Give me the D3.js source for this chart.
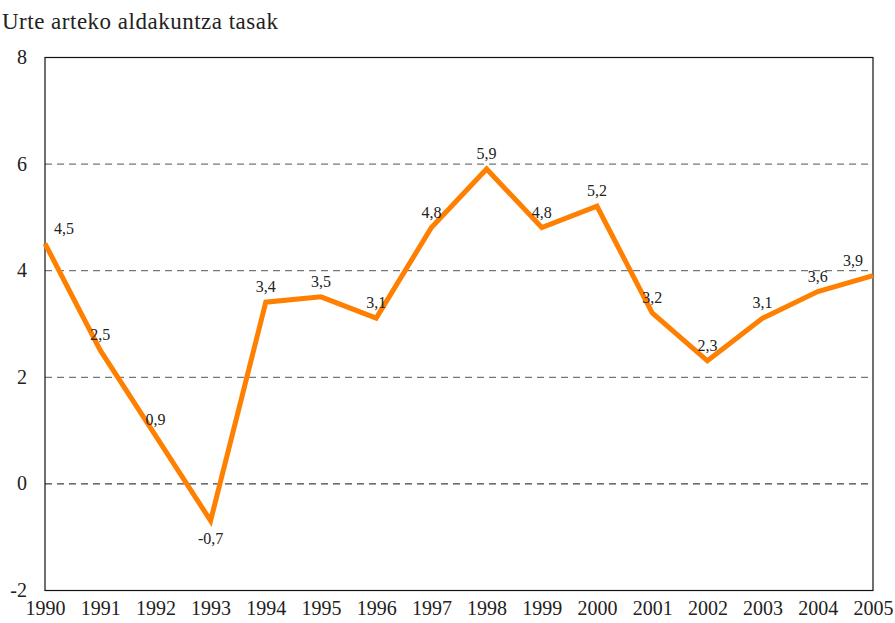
<!DOCTYPE html>
<html>
<head>
<meta charset="utf-8">
<script src="https://cdn.jsdelivr.net/npm/d3@7"></script>
<style>
  body { margin: 0; background: #fff; }
  #chart svg, #chart svg text { font-family: 'Liberation Serif', 'Times New Roman', 'DejaVu Serif', serif !important; }
</style>
</head>
<body>
<div id="chart"></div>
<script>
const years = ['1990', '1991', '1992', '1993', '1994', '1995', '1996', '1997',
    '1998', '1999', '2000', '2001', '2002', '2003', '2004', '2005'];
const rates = [4.5, 2.5, 0.9, -0.7, 3.4, 3.5, 3.1, 4.8, 5.9, 4.8, 5.2, 3.2, 2.3, 3.1, 3.6, 3.9];
const yTicks = [-2, 0, 2, 4, 6, 8];
const title = 'Urte arteko aldakuntza tasak';

const outerWidth = 895;
const outerHeight = 623;
const margin = { top: 57, left: 45, bottom: 33, right: 22 };
const innerWidth = outerWidth - margin.left - margin.right;
const innerHeight = outerHeight - margin.top - margin.bottom;

const fmt = v => String(v).replace('.', ',');

const xScale = d3.scalePoint()
    .domain(years)
    .range([0, innerWidth]);

const yScale = d3.scaleLinear()
    .domain([-2, 8])
    .range([innerHeight, 0]);

const root = d3.select('#chart')
    .append('svg')
        .attr('width', outerWidth)
        .attr('height', outerHeight);

root.append('text')
    .attr('x', 2)
    .attr('y', 29)
    .attr('font-size', 23)
    .attr('letter-spacing', 0.5)
    .attr('fill', '#222')
    .text(title);

const svg = root.append('g')
    .attr('transform', `translate(${margin.left},${margin.top})`);

// dashed grid
svg.selectAll('.grid')
    .data(yTicks.filter(t => t > -2 && t < 8))
    .join('line')
        .classed('grid', true)
        .attr('x1', 0)
        .attr('x2', innerWidth)
        .attr('y1', d => yScale(d) + 0.5)
        .attr('y2', d => yScale(d) + 0.5)
        .attr('stroke', d => d === 0 ? '#111' : '#555')
        .attr('stroke-width', 1)
        .attr('stroke-dasharray', '7,5');

// frame
svg.append('rect')
    .attr('x', 0)
    .attr('y', 0.5)
    .attr('width', innerWidth)
    .attr('height', innerHeight)
    .attr('fill', 'none')
    .attr('stroke', '#111')
    .attr('stroke-width', 1.2);

const yAxis = d3.axisLeft(yScale)
    .tickValues(yTicks)
    .tickFormat(d => String(d))
    .tickSize(0)
    .tickPadding(18);

svg.append('g')
    .call(yAxis)
    .attr('font-family', null)
    .attr('font-size', 20)
    .call(g => g.select('.domain').remove())
    .selectAll('text')
        .attr('fill', '#222');

const xAxis = d3.axisBottom(xScale)
    .tickSize(0)
    .tickPadding(11);

svg.append('g')
    .attr('transform', `translate(0,${innerHeight})`)
    .call(xAxis)
    .attr('font-family', null)
    .attr('font-size', 20)
    .call(g => g.select('.domain').remove())
    .selectAll('text')
        .attr('fill', '#222');

const lineGenerator = d3.line()
    .x((d, i) => xScale(years[i]))
    .y(d => yScale(d));

svg.append('path')
    .attr('d', lineGenerator(rates))
    .attr('fill', 'none')
    .attr('stroke', '#ff8000')
    .attr('stroke-width', 5)
    .attr('stroke-linejoin', 'miter');

// value labels
svg.selectAll('.val')
    .data(rates)
    .join('text')
        .classed('val', true)
        .attr('x', (d, i) => xScale(years[i]) + (i === 0 ? 19 : i === rates.length - 1 ? -20 : 0))
        .attr('y', (d, i) => yScale(d) + (d < 0 ? 23 : -10))
        .attr('text-anchor', 'middle')
        .attr('font-size', 16)
        .attr('fill', '#222')
        .text(d => fmt(d));
</script>
</body>
</html>
